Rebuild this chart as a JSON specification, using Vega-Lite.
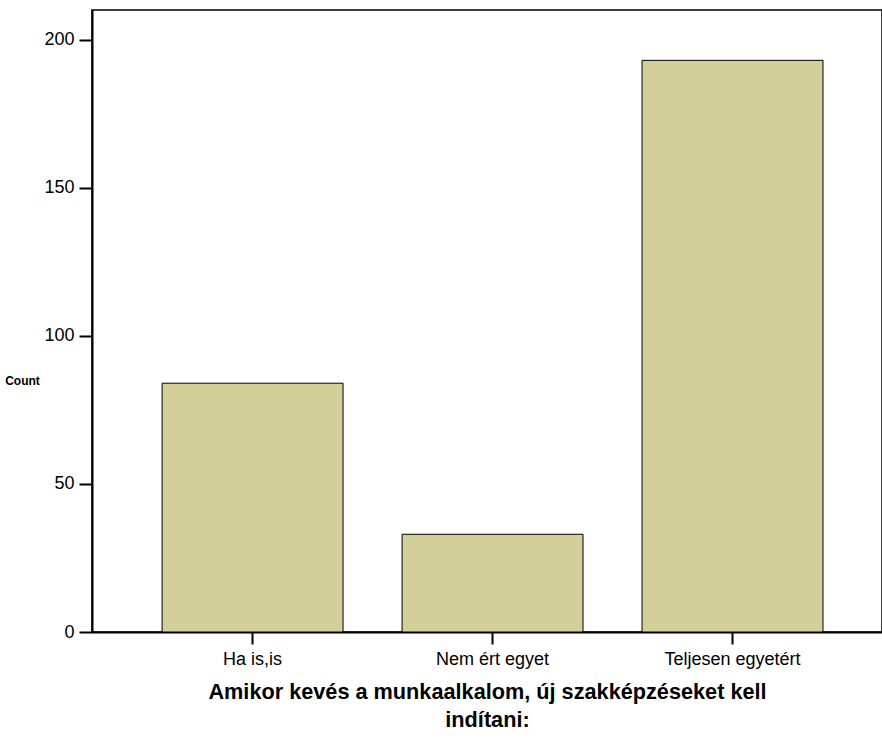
{
  "$schema": "https://vega.github.io/schema/vega-lite/v6.json",
  "width": 790,
  "height": 622,
  "autosize": {"type": "none"},
  "padding": {"left": 92, "top": 10, "right": 0, "bottom": 106},
  "background": "white",
  "config": {
    "font": "Liberation Sans",
    "view": {"stroke": "#000000", "strokeWidth": 1.5},
    "axis": {
      "domainColor": "#000000",
      "domainWidth": 2,
      "tickColor": "#000000",
      "tickWidth": 2,
      "tickSize": 13,
      "labelColor": "#000000",
      "labelFont": "Liberation Sans",
      "labelFontSize": 18,
      "grid": false,
      "titleColor": "#000000",
      "titleFont": "Liberation Sans"
    }
  },
  "data": {
    "values": [
      {"answer": "Ha is,is", "count": 84},
      {"answer": "Nem ért egyet", "count": 33},
      {"answer": "Teljesen egyetért", "count": 193}
    ]
  },
  "mark": {"type": "bar", "fill": "#D3CF98", "stroke": "#000000", "strokeWidth": 1},
  "encoding": {
    "x": {
      "field": "answer",
      "type": "nominal",
      "sort": null,
      "scale": {"paddingInner": 0.246, "paddingOuter": 0.269, "align": 0.543},
      "axis": {
        "labelAngle": 0,
        "labelPadding": 6,
        "tickSize": 12,
        "title": ["Amikor kevés a munkaalkalom, új szakképzéseket kell", "indítani:"],
        "titleFontSize": 21.7,
        "titleFontWeight": "bold",
        "titleLineHeight": 28,
        "titlePadding": 13
      }
    },
    "y": {
      "field": "count",
      "type": "quantitative",
      "scale": {"domain": [0, 210], "nice": false},
      "axis": {
        "values": [0, 50, 100, 150, 200],
        "labelPadding": 5,
        "title": "Count",
        "titleAngle": 0,
        "titleFontSize": 12,
        "titleFontWeight": "bold",
        "titleAlign": "center",
        "titleBaseline": "middle",
        "titleX": -70,
        "titleY": 370
      }
    }
  }
}
